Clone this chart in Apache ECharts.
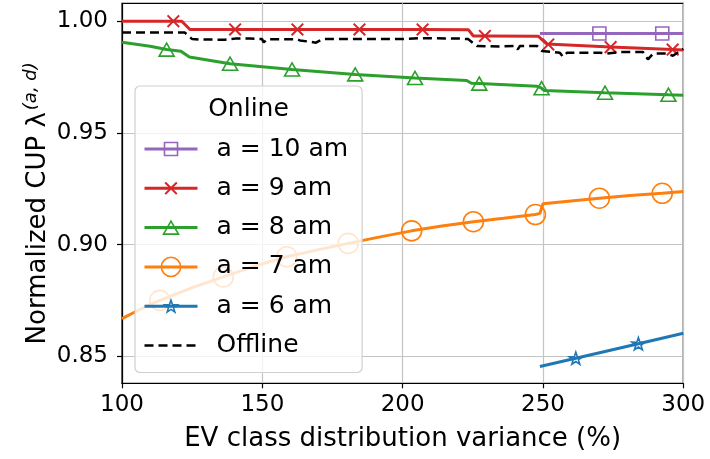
<!DOCTYPE html>
<html><head><meta charset="utf-8">
<script src="https://cdn.jsdelivr.net/npm/echarts@6/dist/echarts.min.js"></script>
<style>html,body{margin:0;padding:0;background:#fff}#c{width:710px;height:459px}</style>
</head><body><div id="c"></div>
<script>
// ---- data ----
const xTicks = [100, 150, 200, 250, 300];
const yTicks = [0.85, 0.90, 0.95, 1.00];
const legendNames = ['a = 10 am', 'a = 9 am', 'a = 8 am', 'a = 7 am', 'a = 6 am', 'Offline'];
const legendTitle = 'Online';
const xTitle = 'EV class distribution variance (%)';

const purpleX = [248.9, 270.1, 292.5, 300];
const purpleY = [0.9945, 0.9945, 0.9945, 0.9945];
const purpleM = [0, 1, 1, 0];

const redX = [100, 118.3, 121.3, 124.2, 140.3, 162.5, 184.6, 207.1, 223.4, 225.2, 229.3, 248.3, 251.3, 251.9, 274.1, 296.2, 300];
const redY = [1.000, 1.000, 1.000, 0.9963, 0.9963, 0.9963, 0.9963, 0.9963, 0.9962, 0.9934, 0.9934, 0.9933, 0.9898, 0.9896, 0.9884, 0.9873, 0.9871];
const redM = [0, 1, 0, 0, 1, 1, 1, 1, 0, 0, 1, 0, 0, 1, 1, 1, 0];

const greenX = [100, 110, 115.9, 121, 124, 138.5, 160.6, 183.1, 204.4, 222.8, 224.5, 227.3, 247.8, 249.5, 250.5, 272.1, 294.7, 300];
const greenY = [0.9906, 0.9888, 0.9873, 0.9865, 0.9840, 0.9810, 0.9784, 0.9762, 0.9746, 0.9735, 0.9722, 0.9721, 0.9709, 0.9700, 0.9690, 0.9680, 0.9671, 0.9669];
const greenM = [0, 0, 1, 0, 0, 1, 1, 1, 1, 0, 0, 1, 0, 1, 0, 1, 1, 0];

const orangeX = [100, 104.6, 110, 113.5, 125, 136.1, 147, 158.7, 170, 180.6, 192, 203.2, 214, 225.2, 236, 247.3, 248.9, 250, 260, 270.1, 281, 292.5, 300];
const orangeY = [0.8669, 0.8699, 0.8732, 0.8751, 0.8808, 0.8856, 0.8903, 0.8946, 0.8978, 0.9006, 0.9035, 0.9062, 0.9084, 0.9103, 0.9118, 0.9135, 0.9140, 0.9183, 0.9196, 0.9208, 0.9220, 0.9230, 0.9238];
const orangeM = [0, 0, 0, 1, 0, 1, 0, 1, 0, 1, 0, 1, 0, 1, 0, 1, 0, 0, 0, 1, 0, 1, 0];

const blueX = [248.9, 261.7, 284, 300];
const blueY = [0.8455, 0.8492, 0.8557, 0.8604];
const blueM = [0, 1, 1, 0];

const offX = [100, 122.4, 125.0, 127.8, 136.7, 140.3, 145.6, 149.9, 150.5, 151.7, 162.4, 163.4, 169.1, 171.6, 199.1, 206.2, 220.5, 223.3, 226.5, 234.7, 240.0, 241.0, 241.8, 247.9, 249.6, 256.0, 257.1, 258.6, 270.3, 272.8, 277.4, 285.6, 287.4, 289.2, 294.2, 296.3, 300];
const offY = [0.9949, 0.9949, 0.9920, 0.9918, 0.9917, 0.9922, 0.9922, 0.9920, 0.9905, 0.9919, 0.9919, 0.9914, 0.9904, 0.9920, 0.9920, 0.9924, 0.9922, 0.9920, 0.9889, 0.9887, 0.9889, 0.9874, 0.9889, 0.9889, 0.9867, 0.9859, 0.9841, 0.9859, 0.9859, 0.9855, 0.9862, 0.9862, 0.9829, 0.9855, 0.9855, 0.9845, 0.9876];

// ---- styling ----
const FONT = 'DejaVu Sans';
const C = { purple: '#9467bd', red: '#d62728', green: '#2ca02c', orange: '#ff7f0e', blue: '#1f77b4' };
// marker shapes drawn inside a 0..100 box (68% occupancy) so legend and plot markers share one size
const BOX = 'M0,0 M100,100 ';
const SQUARE = 'path://' + BOX + 'M16,16 L84,16 L84,84 L16,84 Z';
const TRI = 'path://' + BOX + 'M50,16 L89,84 L11,84 Z';
const STAR = 'path://' + BOX + 'M50,19 L58.02,43.07 L82.71,42.46 L62.99,57.96 L69.99,80.54 L50,66.6 L30.01,80.54 L37.01,57.96 L17.29,42.46 L41.98,43.07 Z';
const XMARK = 'path://' + BOX + 'M16,23.48 L23.48,16 L50,42.52 L76.52,16 L84,23.48 L57.48,50 L84,76.52 L76.52,84 L50,57.48 L23.48,84 L16,76.52 L42.52,50 Z';

function build(xs, ys, ms) {
  return xs.map((x, i) => ms && ms[i] ? { value: [x, ys[i]] } : { value: [x, ys[i]], symbol: 'none' });
}
function lineSeries(name, xs, ys, ms, color, symbol, size, filled) {
  return {
    name, type: 'line', data: build(xs, ys, ms), symbol, symbolSize: size,
    showSymbol: true, showAllSymbol: true, smooth: false, z: 3,
    lineStyle: { color, width: 3 },
    itemStyle: filled ? { color, borderWidth: 0 } : { color: 'rgba(255,255,255,0)', borderColor: color, borderWidth: 1.6 },
    emphasis: { disabled: true }, animation: false
  };
}
const hollow = c => ({ color: 'rgba(255,255,255,0)', borderColor: c, borderWidth: 1.6 });

const option = {
  animation: false,
  textStyle: { fontFamily: FONT },
  grid: { left: 122, right: 26.7, top: 3.3, bottom: 75.7, show: true, borderColor: '#000', borderWidth: 1.2, backgroundColor: 'transparent' },
  xAxis: {
    type: 'value', min: xTicks[0], max: xTicks[xTicks.length - 1], interval: 50,
    name: xTitle, nameLocation: 'middle', nameGap: 43,
    nameTextStyle: { fontSize: 26, color: '#000', fontFamily: FONT },
    axisLine: { lineStyle: { color: '#000', width: 1.2 } },
    axisTick: { show: true, length: 5, lineStyle: { color: '#000', width: 1.2 } },
    axisLabel: { fontSize: 23, color: '#000', margin: 10, fontFamily: FONT },
    splitLine: { show: true, lineStyle: { color: '#c4c4c4', width: 1.2 } }
  },
  yAxis: {
    type: 'value', min: 0.838, max: 1.008,
    name: 'Normalized CUP λ{sup|(a, d)}', nameLocation: 'middle', nameGap: 68, nameRotate: 90, nameMoveOverlap: false,
    nameTextStyle: { fontSize: 26, color: '#000', fontFamily: FONT, padding: [0, 20, 0, 0],
      rich: { sup: { fontSize: 18, fontStyle: 'italic', color: '#000', fontFamily: FONT, verticalAlign: 'top', padding: [0, 0, 14, 2] } } },
    axisLine: { show: true, lineStyle: { color: '#000', width: 1.2 } },
    axisTick: { show: true, length: 5, customValues: yTicks, lineStyle: { color: '#000', width: 1.2 } },
    axisLabel: { fontSize: 23, color: '#000', margin: 14, fontFamily: FONT, customValues: yTicks,
      formatter: v => v.toFixed(2) },
    splitLine: { show: true, lineStyle: { color: '#c4c4c4', width: 1.2 } }
  },
  legend: {
    orient: 'vertical', left: 135, top: 86, padding: [50, 14, 14, 8],
    itemWidth: 53, itemHeight: 24, itemGap: 13.3,
    selectedMode: false,
    backgroundColor: 'rgba(255,255,255,0.8)', borderColor: '#d0d0d0', borderWidth: 1.2, borderRadius: 5,
    textStyle: { fontSize: 25, color: '#000', fontFamily: FONT, lineHeight: 26, padding: [0, 0, 0, 14] },
    data: [
      { name: legendNames[0], itemStyle: hollow(C.purple), lineStyle: { color: C.purple, width: 3 } },
      { name: legendNames[1], itemStyle: { color: C.red, borderWidth: 0 }, lineStyle: { color: C.red, width: 3 } },
      { name: legendNames[2], itemStyle: hollow(C.green), lineStyle: { color: C.green, width: 3 } },
      { name: legendNames[3], itemStyle: hollow(C.orange), lineStyle: { color: C.orange, width: 3 } },
      { name: legendNames[4], itemStyle: hollow(C.blue), lineStyle: { color: C.blue, width: 3 } },
      { name: legendNames[5], itemStyle: { color: 'rgba(0,0,0,0)', borderWidth: 0 }, lineStyle: { color: '#000', width: 2.5, type: [9, 5] } }
    ]
  },
  graphic: [{ type: 'text', z: 100, style: { text: legendTitle, x: 248.5, y: 109, align: 'center', verticalAlign: 'middle', fontSize: 25, fontFamily: FONT, fill: '#000' } }],
  series: [
    lineSeries(legendNames[4], blueX, blueY, blueM, C.blue, STAR, 20, false),
    lineSeries(legendNames[3], orangeX, orangeY, orangeM, C.orange, 'circle', 20, false),
    lineSeries(legendNames[2], greenX, greenY, greenM, C.green, TRI, 19.2, false),
    lineSeries(legendNames[1], redX, redY, redM, C.red, XMARK, 19.2, true),
    lineSeries(legendNames[0], purpleX, purpleY, purpleM, C.purple, SQUARE, 19.2, false),
    {
      name: legendNames[5], type: 'line', data: build(offX, offY, null), symbol: 'none', z: 4,
      lineStyle: { color: '#000', width: 2.5, type: [9, 5] }, itemStyle: { color: '#000' },
      emphasis: { disabled: true }, animation: false
    }
  ]
};
const chart = echarts.init(document.getElementById('c'), null, { renderer: 'canvas' });
chart.setOption(option);
</script></body></html>
